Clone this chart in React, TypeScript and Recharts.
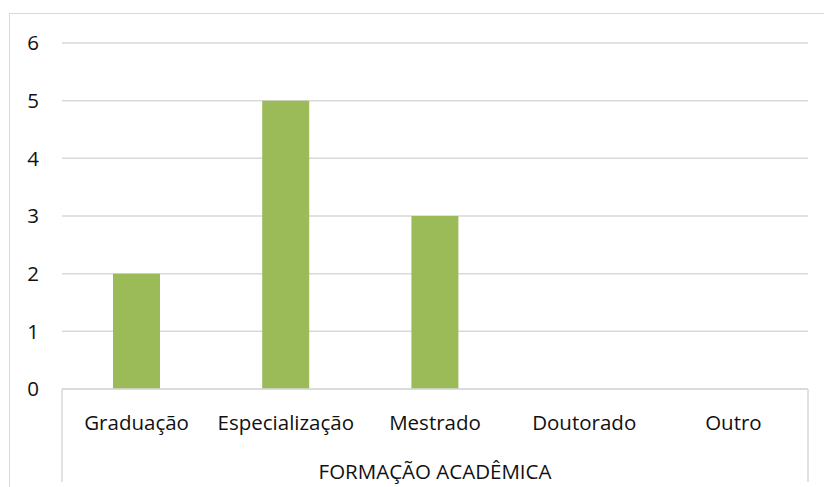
import { BarChart, Bar, XAxis, YAxis, CartesianGrid } from "recharts";

const categories = ["Graduação", "Especialização", "Mestrado", "Doutorado", "Outro"];
const values = [2, 5, 3, 0, 0];
const yTicks = [0, 1, 2, 3, 4, 5, 6];
const axisTitle = "FORMAÇÃO ACADÊMICA";

const data = categories.map((name, i) => ({ name, value: values[i] }));

const font = "'Open Sans', sans-serif";
const grid = "#d9d9d9";
const fs = 20.5;

export default function App() {
  return (
    <div style={{ position: "absolute", left: 0, top: 0, width: 824, height: 487, overflow: "hidden", background: "#fff", fontFamily: font }}>
      <div style={{ position: "absolute", left: 9, top: 13, width: 840, height: 500, border: `1px solid ${grid}` }} />
      <BarChart width={824} height={487} data={data} margin={{ top: 43, right: 16, left: 0, bottom: 0 }}>
        <CartesianGrid vertical={false} stroke={grid} strokeWidth={1.5} />
        <XAxis
          dataKey="name"
          height={98}
          axisLine={{ stroke: grid, strokeWidth: 1.5 }}
          tickLine={false}
          tickMargin={20}
          tick={{ fontSize: fs, fill: "#111", fontFamily: font }}
          label={{ value: axisTitle, position: "insideBottom", offset: 8, fontSize: fs, fill: "#111", fontFamily: font }}
        />
        <YAxis
          width={62}
          domain={[0, 6]}
          ticks={yTicks}
          axisLine={false}
          tickLine={false}
          tickMargin={17}
          tick={{ fontSize: fs, fill: "#111", fontFamily: font }}
        />
        <Bar dataKey="value" fill="#9bbb59" barSize={47} isAnimationActive={false} />
      </BarChart>
      <svg style={{ position: "absolute", left: 0, top: 0 }} width={824} height={487}>
        <line x1={62} x2={62} y1={389} y2={482} stroke={grid} strokeWidth={1.5} />
        <line x1={808} x2={808} y1={389} y2={482} stroke={grid} strokeWidth={1.5} />
      </svg>
    </div>
  );
}
